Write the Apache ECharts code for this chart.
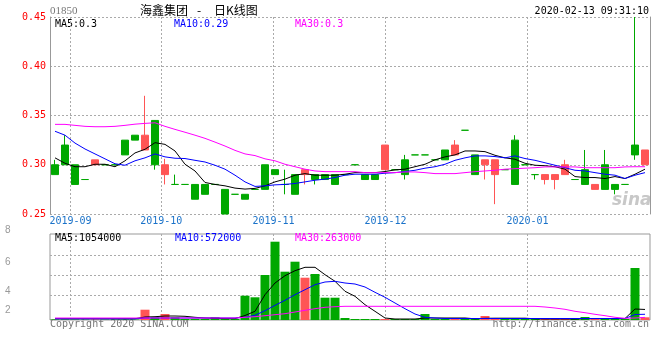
<!DOCTYPE html>
<html><head><meta charset="utf-8">
<script src="https://cdn.jsdelivr.net/npm/echarts@6/dist/echarts.min.js"></script>
<style>html,body{margin:0;padding:0;background:#fff}#c{width:660px;height:360px}</style>
</head><body><div id="c"></div>
<script>
// ---- data ----
const categories = Array.from({length: 60}, (_, i) => 'D' + (i + 1));
const openP  = [0.300,0.320,0.300,0.285,0.300,0.300,0.300,0.325,0.330,0.315,0.345,0.290,0.280,0.280,0.280,0.280,0.280,0.275,0.270,0.270,0.275,0.300,0.295,0.280,0.290,0.290,0.290,0.290,0.290,0.290,0.300,0.290,0.290,0.295,0.295,0.305,0.310,0.310,0.305,0.315,0.310,0.335,0.310,0.300,0.290,0.295,0.325,0.300,0.290,0.285,0.285,0.290,0.285,0.295,0.275,0.300,0.280,0.280,0.320,0.300];
const closeP = [0.290,0.300,0.280,0.285,0.305,0.300,0.300,0.310,0.325,0.330,0.300,0.300,0.280,0.280,0.265,0.270,0.280,0.250,0.270,0.265,0.275,0.275,0.290,0.280,0.270,0.295,0.285,0.285,0.280,0.290,0.300,0.285,0.285,0.320,0.295,0.290,0.310,0.310,0.305,0.305,0.320,0.335,0.290,0.305,0.305,0.295,0.280,0.300,0.290,0.290,0.290,0.300,0.285,0.280,0.280,0.275,0.275,0.280,0.310,0.315];
const lowP   = [0.290,0.300,0.280,0.285,0.300,0.300,0.300,0.310,0.325,0.315,0.295,0.280,0.280,0.280,0.265,0.270,0.280,0.250,0.270,0.265,0.275,0.275,0.290,0.270,0.270,0.280,0.280,0.285,0.280,0.290,0.300,0.285,0.285,0.295,0.295,0.285,0.310,0.310,0.305,0.305,0.310,0.335,0.290,0.285,0.260,0.295,0.280,0.300,0.285,0.280,0.275,0.290,0.285,0.280,0.275,0.275,0.270,0.280,0.305,0.300];
const highP  = [0.305,0.330,0.300,0.285,0.305,0.300,0.300,0.325,0.330,0.370,0.345,0.306,0.290,0.280,0.280,0.280,0.280,0.275,0.270,0.270,0.275,0.300,0.295,0.295,0.290,0.295,0.290,0.290,0.290,0.290,0.300,0.290,0.290,0.320,0.295,0.310,0.310,0.310,0.305,0.315,0.325,0.335,0.310,0.305,0.305,0.295,0.330,0.300,0.290,0.290,0.290,0.305,0.285,0.315,0.280,0.315,0.280,0.280,0.450,0.315];
const ma5P  = [0.307,0.3015,0.298,0.298,0.3005,0.3005,0.298,0.304,0.312,0.3157,0.3224,0.3207,0.314,0.3005,0.2937,0.282,0.280,0.2786,0.2763,0.2753,0.276,0.2786,0.2826,0.2854,0.2894,0.291,0.2894,0.2894,0.2894,0.2904,0.292,0.292,0.292,0.2931,0.2948,0.2955,0.298,0.3005,0.305,0.308,0.310,0.314,0.314,0.3133,0.3096,0.307,0.3056,0.3015,0.2995,0.299,0.298,0.2955,0.288,0.287,0.287,0.286,0.288,0.286,0.2904,0.2955];
const ma10P = [0.334,0.330,0.322,0.316,0.311,0.306,0.301,0.2995,0.304,0.307,0.311,0.308,0.3066,0.3063,0.3045,0.3028,0.2995,0.2955,0.2894,0.2826,0.278,0.2786,0.2796,0.280,0.281,0.2826,0.2843,0.2854,0.287,0.2894,0.2904,0.2904,0.2904,0.2914,0.292,0.2931,0.2944,0.2965,0.298,0.3005,0.3045,0.307,0.309,0.309,0.3083,0.307,0.309,0.3063,0.3045,0.302,0.2995,0.297,0.2944,0.2937,0.292,0.2904,0.2894,0.286,0.2894,0.292];
const ma30P = [0.341,0.341,0.340,0.339,0.3386,0.3386,0.339,0.340,0.3412,0.342,0.3426,0.339,0.3359,0.333,0.330,0.3268,0.323,0.319,0.3146,0.311,0.3093,0.306,0.304,0.3005,0.298,0.2955,0.2937,0.293,0.293,0.293,0.293,0.292,0.292,0.292,0.292,0.2927,0.2927,0.292,0.291,0.291,0.291,0.292,0.293,0.2937,0.2944,0.2955,0.296,0.2965,0.297,0.2978,0.2978,0.2978,0.2978,0.297,0.297,0.297,0.297,0.2978,0.298,0.298];
const volume = [50000,60000,50000,40000,50000,40000,50000,60000,50000,1030000,270000,600000,270000,100000,120000,100000,270000,120000,100000,2430000,2270000,4500000,7830000,4830000,5830000,4230000,4600000,2230000,2230000,200000,100000,100000,100000,100000,100000,100000,100000,600000,100000,100000,150000,100000,100000,400000,150000,100000,150000,100000,100000,100000,100000,100000,100000,300000,100000,150000,100000,100000,5200000,270000];
const ma5V  = [130000,130000,130000,130000,130000,130000,130000,130000,130000,300000,330000,400000,400000,370000,270000,200000,170000,140000,140000,450000,870000,2530000,3700000,4430000,4930000,5270000,5270000,4530000,3870000,2870000,2370000,1530000,870000,200000,100000,100000,100000,200000,200000,200000,200000,200000,120000,170000,180000,180000,180000,180000,120000,100000,100000,100000,100000,140000,140000,150000,150000,150000,1100000,1054000];
const ma10V = [120000,120000,120000,120000,120000,120000,120000,120000,120000,200000,200000,200000,200000,200000,200000,200000,200000,200000,200000,270000,470000,930000,1470000,1970000,2530000,3030000,3530000,3800000,3870000,3700000,3600000,3300000,2770000,2270000,1700000,1130000,600000,270000,200000,150000,150000,150000,150000,150000,150000,150000,150000,150000,150000,150000,150000,150000,150000,150000,150000,150000,150000,150000,550000,572000];
const ma30V = [200000,200000,200000,200000,200000,200000,200000,200000,200000,200000,200000,200000,200000,200000,200000,200000,200000,200000,200000,270000,330000,430000,530000,630000,800000,970000,1130000,1270000,1330000,1370000,1370000,1370000,1370000,1370000,1370000,1370000,1370000,1370000,1370000,1370000,1370000,1370000,1370000,1370000,1370000,1370000,1370000,1370000,1370000,1300000,1200000,1070000,870000,730000,570000,430000,270000,170000,200000,263000];
const monthTickPos = [2.05, 11.13, 22.35, 33.55, 47.75];
const monthLabels = ['2019-09', '2019-10', '2019-11', '2019-12', '2020-01'];
const volGridPos = [2430000, 4430000, 6430000];
const volLabelPos = [8600000, 5800000, 2900000, 1000000];
const volLabels = ['8', '6', '4', '2'];
const stockCode = '01850';
const titleParts = ['海鑫集团', '-', '日K线图'];
const timeText = '2020-02-13 09:31:10';
const priceLegend = ['MA5:0.3', 'MA10:0.29', 'MA30:0.3'];
const volLegend = ['MA5:1054000', 'MA10:572000', 'MA30:263000'];

// ---- styles ----
const UP = '#ff5555', DOWN = '#00a800';
const MONO = '"DejaVu Sans Mono", monospace';
const CJK = '"Noto Sans CJK SC", sans-serif';
const GRIDC = '#aaaaaa', BORDER = '#999999';

const candleData = categories.map((_, i) => {
  const item = {value: [openP[i], closeP[i], lowP[i], highP[i]]};
  if (openP[i] === closeP[i]) item.itemStyle = {color: DOWN, color0: DOWN, borderColor: DOWN, borderColor0: DOWN};
  return item;
});
const volData = categories.map((_, i) => ({
  value: volume[i], itemStyle: {color: closeP[i] > openP[i] ? UP : DOWN}
}));
const nearestIdx = (arr, v) => { let b = 0; arr.forEach((a, k) => { if (Math.abs(a - v) < Math.abs(arr[b] - v)) b = k; }); return b; };

const chart = echarts.init(document.getElementById('c'), null, {renderer: 'canvas'});
const dotted = {show: true, lineStyle: {color: GRIDC, type: [2, 2], width: 1}};
const lineS = (name, data, color, xi, yi) => ({name, type: 'line', data, xAxisIndex: xi, yAxisIndex: yi, symbol: 'none', lineStyle: {color, width: 1}, itemStyle: {color}, z: 5, silent: true});

chart.setOption({
  animation: false,
  backgroundColor: '#ffffff',
  grid: [
    {left: 50, top: 17, width: 600, height: 197},
    {left: 50, top: 234, width: 600, height: 86, show: true, borderColor: BORDER, borderWidth: 1}
  ],
  xAxis: [
    {type: 'category', gridIndex: 0, data: categories, boundaryGap: true, axisLine: {show: false}, axisTick: {show: false}, axisLabel: {show: false}, splitLine: {show: false}},
    {type: 'value', gridIndex: 0, min: 0, max: 60, position: 'bottom', axisLine: {show: false},
     axisTick: {show: false, customValues: monthTickPos},
     axisLabel: {customValues: monthTickPos, color: '#1a72c9', fontFamily: MONO, fontSize: 10, margin: 2,
       formatter: v => monthLabels[nearestIdx(monthTickPos, v)]},
     splitLine: dotted},
    {type: 'category', gridIndex: 1, data: categories, boundaryGap: true, axisLine: {show: false}, axisTick: {show: false}, axisLabel: {show: false}, splitLine: {show: false}},
    {type: 'value', gridIndex: 1, min: 0, max: 60, axisLine: {show: false},
     axisTick: {show: false, customValues: monthTickPos}, axisLabel: {show: false}, splitLine: dotted}
  ],
  yAxis: [
    {type: 'value', gridIndex: 0, min: 0.25, max: 0.45, interval: 0.05,
     axisLine: {show: true, lineStyle: {color: BORDER}}, axisTick: {show: false},
     axisLabel: {color: '#ff0000', fontFamily: MONO, fontSize: 10, margin: 4, formatter: v => v.toFixed(2)},
     splitLine: dotted},
    {type: 'value', gridIndex: 0, min: 0.25, max: 0.45, position: 'right',
     axisLine: {show: true, lineStyle: {color: BORDER}}, axisTick: {show: false}, axisLabel: {show: false}, splitLine: {show: false}},
    {type: 'value', gridIndex: 1, min: 0, max: 8600000,
     axisLine: {show: false}, axisTick: {show: false, customValues: volGridPos},
     axisLabel: {customValues: volLabelPos, color: '#999999', fontFamily: '"Liberation Sans", sans-serif', fontSize: 10, align: 'left', margin: 45,
       formatter: v => { const k = nearestIdx(volLabelPos, v); return '{s' + k + '|' + volLabels[k] + '}'; },
       rich: {s0: {padding: [0, 0, 7, 0]}, s1: {}, s2: {}, s3: {}}},
     splitLine: dotted}
  ],
  series: [
    {name: 'K', type: 'candlestick', xAxisIndex: 0, yAxisIndex: 0, data: candleData, barWidth: 8,
     itemStyle: {color: UP, color0: DOWN, borderColor: UP, borderColor0: DOWN, borderWidth: 1}, z: 3, silent: true},
    lineS('MA5', ma5P, '#000000', 0, 0),
    lineS('MA10', ma10P, '#0000ff', 0, 0),
    lineS('MA30', ma30P, '#ff00ff', 0, 0),
    {name: 'VOL', type: 'bar', xAxisIndex: 2, yAxisIndex: 2, data: volData, barWidth: 9, z: 3, silent: true},
    lineS('VMA5', ma5V, '#000000', 2, 2),
    lineS('VMA10', ma10V, '#0000ff', 2, 2),
    lineS('VMA30', ma30V, '#ff00ff', 2, 2)
  ],
  graphic: [
    {type: 'text', left: 50, top: 6, style: {text: stockCode, fill: '#777', font: '11px "Liberation Serif", serif'}},
    {type: 'text', left: 140, top: 4, style: {text: titleParts[0], fill: '#000', font: '12px ' + CJK}},
    {type: 'text', left: 197, top: 4, style: {text: titleParts[1], fill: '#000', font: '12px ' + CJK}},
    {type: 'text', left: 214, top: 4, style: {text: titleParts[2], fill: '#000', font: '12px ' + CJK}},
    {type: 'text', right: 11, top: 6, style: {text: timeText, fill: '#000', font: '10px ' + MONO}},
    {type: 'text', left: 55, top: 19, style: {text: priceLegend[0], fill: '#000000', font: '10px ' + MONO}},
    {type: 'text', left: 174, top: 19, style: {text: priceLegend[1], fill: '#0000ff', font: '10px ' + MONO}},
    {type: 'text', left: 295, top: 19, style: {text: priceLegend[2], fill: '#ff00ff', font: '10px ' + MONO}},
    {type: 'text', left: 55, top: 233, style: {text: volLegend[0], fill: '#000000', font: '10px ' + MONO}},
    {type: 'text', left: 175, top: 233, style: {text: volLegend[1], fill: '#0000ff', font: '10px ' + MONO}},
    {type: 'text', left: 295, top: 233, style: {text: volLegend[2], fill: '#ff00ff', font: '10px ' + MONO}},
    {type: 'text', left: 50, top: 319, style: {text: 'Copyright 2020 SINA.COM', fill: '#777', font: '10px ' + MONO}},
    {type: 'text', right: 11, top: 319, style: {text: 'http://finance.sina.com.cn', fill: '#777', font: '10px ' + MONO}},
    {type: 'text', left: 612, top: 192, style: {text: 'sina', fill: '#c8c8c8', font: 'italic bold 17px "DejaVu Sans", sans-serif'}}
  ]
});
</script></body></html>
